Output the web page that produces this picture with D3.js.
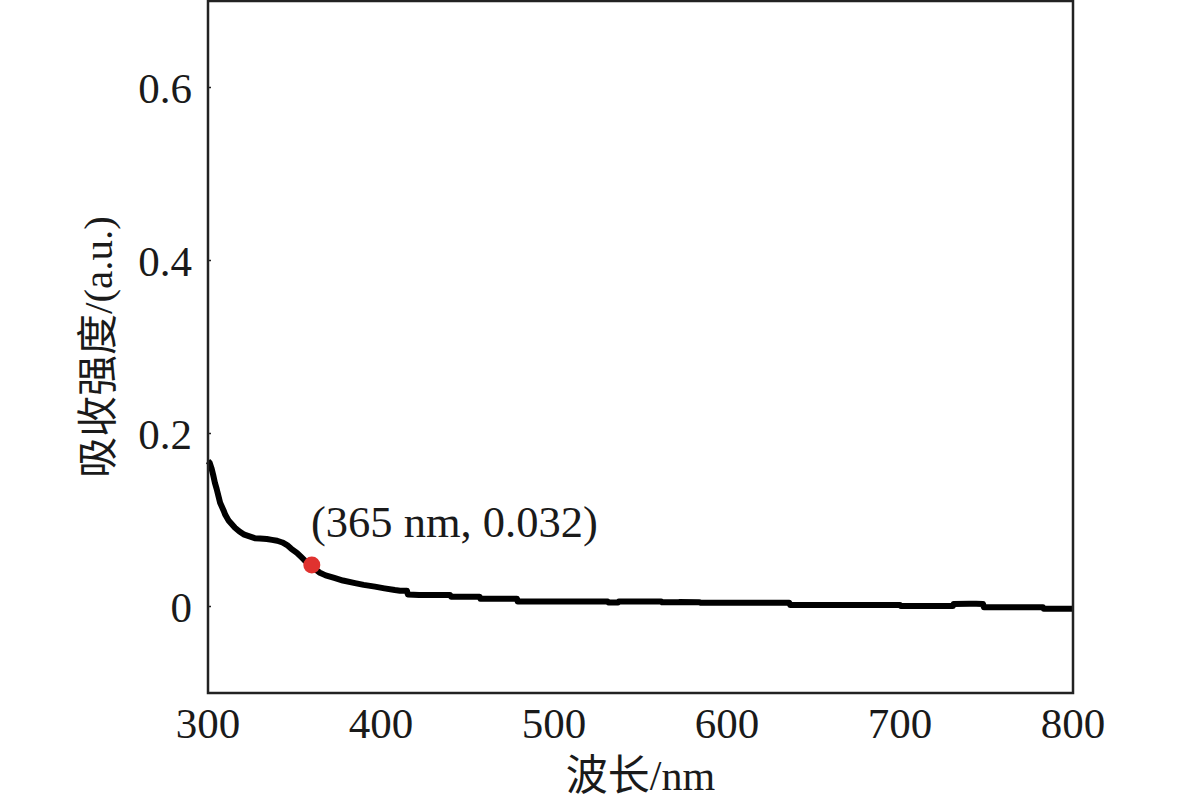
<!DOCTYPE html>
<html>
<head>
<meta charset="utf-8">
<script src="https://cdn.jsdelivr.net/npm/d3@7"></script>
<style>
  html, body { margin: 0; padding: 0; background: #fff; }
  svg { display: block; }
  text { font-family: "Liberation Serif", "Times New Roman", "Noto Sans CJK SC", serif; fill: #1a1a1a; }
</style>
</head>
<body>
<svg id="chart" width="1181" height="807"></svg>
<script>
// ---- data ----
const wavelength = [300, 301, 302, 303, 304, 305, 307, 309, 310, 312, 315.6, 318, 321, 324, 327, 330, 334, 337, 340, 343, 345.7, 348, 351.4, 354, 356, 358, 360, 362, 364.7, 368, 373, 378, 385, 390, 396.5, 402, 408, 411, 415, 415.5, 422, 440, 440.5, 457, 457.5, 478.6, 479, 531, 531.5, 537, 537.5, 562, 562.5, 572, 572.5, 584, 584.5, 610, 636, 636.5, 700, 700.5, 730.6, 731, 740, 744, 748, 748.5, 782.7, 783, 800];
const absorbance = [0.168, 0.166, 0.160, 0.152, 0.143, 0.136, 0.120, 0.111, 0.106, 0.099, 0.091, 0.087, 0.083, 0.081, 0.079, 0.0785, 0.078, 0.077, 0.076, 0.074, 0.071, 0.067, 0.062, 0.057, 0.053, 0.050, 0.047, 0.043, 0.039, 0.036, 0.033, 0.030, 0.027, 0.025, 0.023, 0.021, 0.019, 0.0182, 0.0182, 0.0140, 0.0133, 0.0133, 0.0113, 0.0113, 0.0089, 0.0089, 0.0058, 0.0058, 0.0046, 0.0046, 0.0058, 0.0058, 0.0048, 0.0048, 0.0052, 0.0050, 0.0044, 0.0044, 0.0044, 0.0017, 0.0017, 0.0005, 0.0005, 0.0028, 0.0033, 0.0033, 0.0030, -0.0010, -0.0010, -0.0025, -0.0025];
const xTicks = [300, 400, 500, 600, 700, 800];
const yTicks = [0, 0.2, 0.4, 0.6];
const yTickLabels = ["0", "0.2", "0.4", "0.6"];
const markerPoint = [360, 0.048];
const markerLabel = "(365 nm, 0.032)";
const xTitle = "波长/nm";
const yTitle = "吸收强度/(a.u.)";

// ---- layout ----
const svg = d3.select("#chart");
const L = 208, R = 1073, T = 1, B = 693;
const x = d3.scaleLinear().domain([300, 800]).range([L, R]);
const y = d3.scaleLinear().domain([-0.1, 0.7]).range([B, T]);

// y ticks (tiny inward marks) and labels
svg.append("g").selectAll("line").data(yTicks).join("line")
  .attr("x1", L).attr("x2", L + 3)
  .attr("y1", d => y(d)).attr("y2", d => y(d))
  .attr("stroke", "#222").attr("stroke-width", 1.5);

svg.append("g").selectAll("text").data(yTicks).join("text")
  .attr("x", L - 16).attr("y", d => y(d))
  .attr("dy", "0.35em")
  .attr("text-anchor", "end")
  .attr("font-size", 43)
  .text((d, i) => yTickLabels[i]);

// x tick labels
svg.append("g").selectAll("text").data(xTicks).join("text")
  .attr("x", d => x(d)).attr("y", 738)
  .attr("text-anchor", "middle")
  .attr("font-size", 43)
  .text(d => d);

// curve
const line = d3.line()
  .x((d, i) => x(wavelength[i]))
  .y((d, i) => y(absorbance[i]));
svg.append("path")
  .datum(absorbance)
  .attr("d", line)
  .attr("fill", "none")
  .attr("stroke", "#000")
  .attr("stroke-width", 6)
  .attr("stroke-linejoin", "round");

// frame
svg.append("rect")
  .attr("x", L).attr("y", T)
  .attr("width", R - L).attr("height", B - T)
  .attr("fill", "none")
  .attr("stroke", "#222")
  .attr("stroke-width", 2.5);

// marker
svg.append("circle")
  .attr("cx", x(markerPoint[0])).attr("cy", y(markerPoint[1]))
  .attr("r", 8.5)
  .attr("fill", "#e0322f");

svg.append("text")
  .attr("x", 311).attr("y", 537)
  .attr("font-size", 44.5)
  .text(markerLabel);

// axis titles
svg.append("text")
  .attr("x", (L + R) / 2).attr("y", 790)
  .attr("text-anchor", "middle")
  .attr("font-size", 42)
  .text(xTitle);

svg.append("text")
  .attr("transform", `translate(112, ${(T + B) / 2}) rotate(-90)`)
  .attr("text-anchor", "middle")
  .attr("font-size", 41)
  .text(yTitle);
</script>
</body>
</html>
